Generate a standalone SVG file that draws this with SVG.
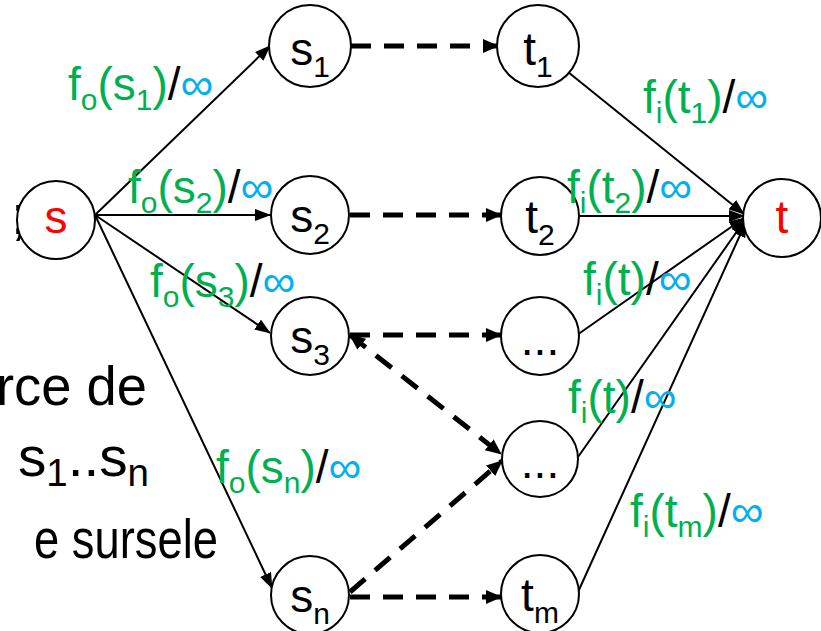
<svg xmlns="http://www.w3.org/2000/svg" width="821" height="631" viewBox="0 0 821 631">
<style>
text{font-family:"Liberation Sans",Arial,sans-serif;}
.big{font-size:56px;fill:#000;}
.lbl{font-size:46px;fill:#000;}
.nt{font-size:46px;fill:#000;text-anchor:middle;}
.sub{font-size:30px;}
.bsub{font-size:38px;}
.g{fill:#00B050;}
.c{fill:#00B0F0;}
.r{fill:#FF0000;}
circle{fill:#fff;stroke:#000;stroke-width:2;}
.e{stroke:#000;stroke-width:2;fill:none;marker-end:url(#ah);}
.d{stroke:#000;stroke-width:5;fill:none;stroke-dasharray:20 13;marker-end:url(#dh);}
</style>
<defs>
<marker id="ah" viewBox="0 0 16 12" refX="15" refY="6" markerWidth="16" markerHeight="12" markerUnits="userSpaceOnUse" orient="auto"><path d="M0,0 L16,6 L0,12 z" fill="#000"/></marker>
<marker id="dh" viewBox="0 0 16 14" refX="15" refY="7" markerWidth="16" markerHeight="14" markerUnits="userSpaceOnUse" orient="auto"><path d="M0,0 L16,7 L0,14 z" fill="#000"/></marker>
<marker id="ds" viewBox="0 0 16 14" refX="1" refY="7" markerWidth="16" markerHeight="14" markerUnits="userSpaceOnUse" orient="auto"><path d="M16,0 L0,7 L16,14 z" fill="#000"/></marker>
</defs>
<g id="background-text">
<text class="big" x="8" y="234" text-anchor="end">→</text>
<text class="big" x="11" y="234">;</text>
<text class="big" x="-4" y="405" textLength="151" lengthAdjust="spacingAndGlyphs">rce de</text>
<text class="big" x="18" y="476" textLength="131" lengthAdjust="spacingAndGlyphs">s<tspan class="bsub" dy="10">1</tspan><tspan dy="-10">..s</tspan><tspan class="bsub" dy="10">n</tspan></text>
<text class="big" x="34" y="558" textLength="184" lengthAdjust="spacingAndGlyphs">e sursele</text>
</g>
<g id="connectors">
<line class="e" x1="95" y1="215" x2="270" y2="46"/>
<line class="e" x1="95" y1="215" x2="270" y2="215"/>
<line class="e" x1="95" y1="215" x2="270" y2="333"/>
<line class="e" x1="95" y1="215" x2="272" y2="588"/>
<line class="e" x1="568" y1="72" x2="744" y2="214"/>
<line class="e" x1="580" y1="216" x2="744" y2="216"/>
<line class="e" x1="577" y1="335" x2="744" y2="218"/>
<line class="e" x1="578" y1="457" x2="745" y2="220"/>
<line class="e" x1="578" y1="592" x2="746" y2="222"/>
<line class="d" x1="351" y1="46" x2="498" y2="46"/>
<line class="d" x1="350" y1="215" x2="501" y2="215"/>
<line class="d" x1="350" y1="335" x2="501" y2="335"/>
<line class="d" x1="350" y1="597" x2="501" y2="597"/>
<line class="d" x1="350" y1="335" x2="501" y2="454" marker-start="url(#ds)"/>
<line class="d" x1="350" y1="592" x2="502" y2="461"/>
</g>
<g id="node-s"><circle cx="56" cy="220" r="39"/><text class="nt r" x="56" y="233">s</text></g>
<g id="node-t"><circle cx="782" cy="218" r="39"/><text class="nt r" x="782" y="233">t</text></g>
<g id="node-s1"><circle cx="310" cy="46" r="41"/><text class="nt" x="310" y="65">s<tspan class="sub" dy="12">1</tspan></text></g>
<g id="node-t1"><circle cx="538" cy="46" r="41"/><text class="nt" x="538" y="65">t<tspan class="sub" dy="12">1</tspan></text></g>
<g id="node-s2"><circle cx="310" cy="215" r="39"/><text class="nt" x="310" y="232">s<tspan class="sub" dy="12">2</tspan></text></g>
<g id="node-t2"><circle cx="540" cy="216" r="39"/><text class="nt" x="540" y="233">t<tspan class="sub" dy="12">2</tspan></text></g>
<g id="node-s3"><circle cx="310" cy="336" r="39"/><text class="nt" x="310" y="353">s<tspan class="sub" dy="12">3</tspan></text></g>
<g id="node-dots1"><circle cx="540" cy="336" r="39"/><text class="nt" x="540" y="355">...</text></g>
<g id="node-dots2"><circle cx="540" cy="459" r="38"/><text class="nt" x="540" y="478">...</text></g>
<g id="node-sn"><circle cx="310" cy="595" r="39"/><text class="nt" x="310" y="612">s<tspan class="sub" dy="12">n</tspan></text></g>
<g id="node-tm"><circle cx="540" cy="594" r="39"/><text class="nt" x="540" y="611">t<tspan class="sub" dy="12">m</tspan></text></g>
<g id="labels">
<text class="lbl" x="68" y="100"><tspan class="g">f<tspan class="sub" dy="10">o</tspan><tspan dy="-10">(s</tspan><tspan class="sub" dy="10">1</tspan><tspan dy="-10">)</tspan></tspan>/<tspan class="c">∞</tspan></text>
<text class="lbl" x="128" y="203"><tspan class="g">f<tspan class="sub" dy="10">o</tspan><tspan dy="-10">(s</tspan><tspan class="sub" dy="10">2</tspan><tspan dy="-10">)</tspan></tspan>/<tspan class="c">∞</tspan></text>
<text class="lbl" x="150" y="297"><tspan class="g">f<tspan class="sub" dy="10">o</tspan><tspan dy="-10">(s</tspan><tspan class="sub" dy="10">3</tspan><tspan dy="-10">)</tspan></tspan>/<tspan class="c">∞</tspan></text>
<text class="lbl" x="216" y="483"><tspan class="g">f<tspan class="sub" dy="10">o</tspan><tspan dy="-10">(s</tspan><tspan class="sub" dy="10">n</tspan><tspan dy="-10">)</tspan></tspan>/<tspan class="c">∞</tspan></text>
<text class="lbl" x="643" y="113"><tspan class="g">f<tspan class="sub" dy="10">i</tspan><tspan dy="-10">(t</tspan><tspan class="sub" dy="10">1</tspan><tspan dy="-10">)</tspan></tspan>/<tspan class="c">∞</tspan></text>
<text class="lbl" x="567" y="203"><tspan class="g">f<tspan class="sub" dy="10">i</tspan><tspan dy="-10">(t</tspan><tspan class="sub" dy="10">2</tspan><tspan dy="-10">)</tspan></tspan>/<tspan class="c">∞</tspan></text>
<text class="lbl" x="583" y="295"><tspan class="g">f<tspan class="sub" dy="10">i</tspan><tspan dy="-10">(t)</tspan></tspan>/<tspan class="c">∞</tspan></text>
<text class="lbl" x="568" y="413"><tspan class="g">f<tspan class="sub" dy="10">i</tspan><tspan dy="-10">(t)</tspan></tspan>/<tspan class="c">∞</tspan></text>
<text class="lbl" x="630" y="527"><tspan class="g">f<tspan class="sub" dy="10">i</tspan><tspan dy="-10">(t</tspan><tspan class="sub" dy="10">m</tspan><tspan dy="-10">)</tspan></tspan>/<tspan class="c">∞</tspan></text>
</g>
</svg>
